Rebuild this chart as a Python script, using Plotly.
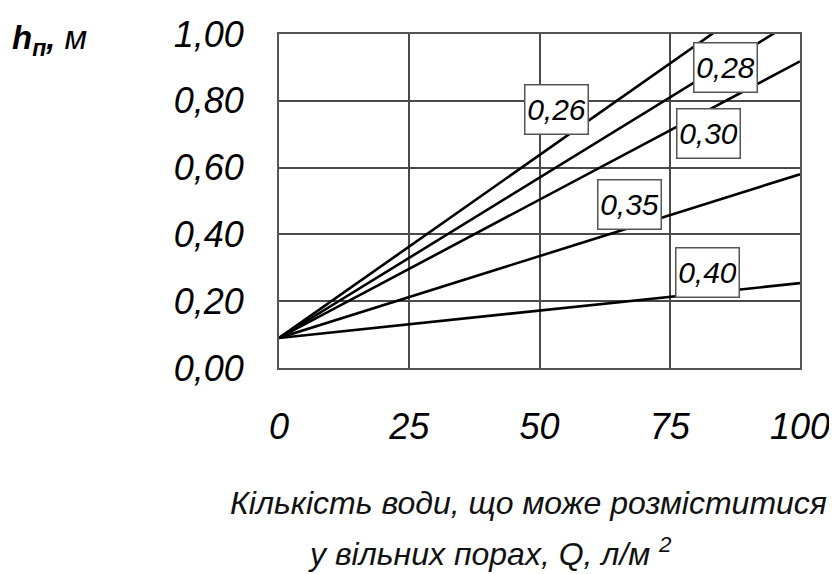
import plotly.graph_objects as go

# ---- data ----
Q = [0, 100]                       # л/м2
series_names = ["0,26", "0,28", "0,30", "0,35", "0,40"]
h_026 = [0.09, 1.185]
h_028 = [0.09, 1.05]
h_030 = [0.09, 0.918]
h_035 = [0.09, 0.58]
h_040 = [0.09, 0.254]
series_values = [h_026, h_028, h_030, h_035, h_040]

x_tickvals = [0, 25, 50, 75, 100]
x_ticktext = ["0", "25", "50", "75", "100"]
y_tickvals = [0.0, 0.2, 0.4, 0.6, 0.8, 1.0]
y_ticktext = ["0,00", "0,20", "0,40", "0,60", "0,80", "1,00"]

# label box positions (data coordinates)
label_pos = {
    "0,26": (53.2, 0.774),
    "0,28": (85.7, 0.901),
    "0,30": (82.4, 0.701),
    "0,35": (67.3, 0.489),
    "0,40": (82.3, 0.285),
}

FONT = "Liberation Sans, Arial, sans-serif"

fig = go.Figure()
for name, vals in zip(series_names, series_values):
    fig.add_trace(go.Scatter(x=Q, y=vals, mode="lines", name=name,
                             line=dict(color="black", width=2.6),
                             showlegend=False, hoverinfo="skip"))

annotations = []
for name in series_names:
    xx, yy = label_pos[name]
    annotations.append(dict(
        x=xx, y=yy, xref="x", yref="y", text=name,
        showarrow=False, bgcolor="white", bordercolor="#555",
        borderwidth=1.5, borderpad=2, width=58, height=44,
        font=dict(family=FONT, size=30, color="black", style="italic"),
        xanchor="center", yanchor="middle"))

annotations.append(dict(
    x=-0.44, y=0.982, xref="paper", yref="paper", xanchor="center", yanchor="middle",
    text="<b>h</b><sub><b>п</b></sub><b>,</b> м",
    showarrow=False, font=dict(family=FONT, size=33, color="black", style="italic")))
annotations.append(dict(
    x=0.478, y=-0.404, xref="paper", yref="paper", xanchor="center", yanchor="middle",
    text="Кількість води, що може розміститися", showarrow=False,
    font=dict(family=FONT, size=32, color="#111", style="italic")))
annotations.append(dict(
    x=0.405, y=-0.55, xref="paper", yref="paper", xanchor="center", yanchor="middle",
    text="у вільних порах, Q, л/м <sup>2</sup>", showarrow=False,
    font=dict(family=FONT, size=32, color="#111", style="italic")))

fig.update_layout(
    width=829, height=566,
    margin=dict(l=271, r=37, t=26, b=206, autoexpand=False),
    paper_bgcolor="white", plot_bgcolor="white",
    annotations=annotations,
    xaxis=dict(range=[0, 100], tickvals=x_tickvals, ticktext=x_ticktext,
               showgrid=True, gridcolor="#4a4a4a", gridwidth=1.5,
               showline=True, linecolor="#555", linewidth=2, mirror=True,
               zeroline=False, ticks="", ticklabelstandoff=26,
               ticklabeloverflow="allow", automargin=False,
               tickfont=dict(family=FONT, size=36, color="black", style="italic")),
    yaxis=dict(range=[0, 1], tickvals=y_tickvals, ticktext=y_ticktext,
               showgrid=True, gridcolor="#4a4a4a", gridwidth=1.5,
               showline=True, linecolor="#555", linewidth=2, mirror=True,
               zeroline=False, ticks="", ticklabelstandoff=26,
               ticklabeloverflow="allow", automargin=False,
               tickfont=dict(family=FONT, size=36, color="black", style="italic")),
)

fig.write_html("out.html")
